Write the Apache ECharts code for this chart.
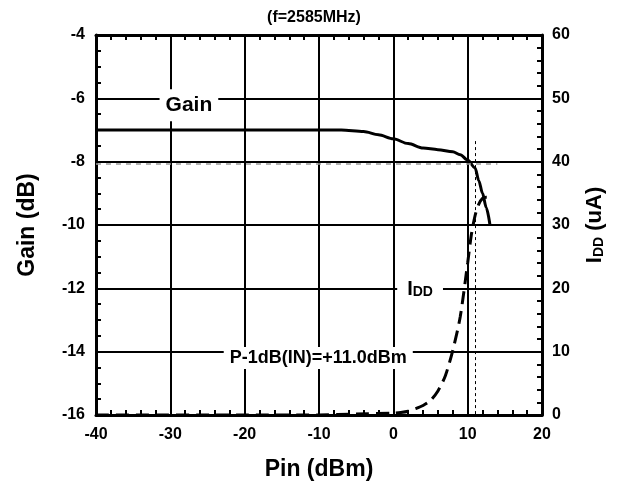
<!DOCTYPE html>
<html><head><meta charset="utf-8">
<script src="https://cdn.jsdelivr.net/npm/echarts@6/dist/echarts.min.js"></script>
<style>html,body{margin:0;padding:0;background:#fff}#c{width:628px;height:487px}</style>
</head><body><div id="c"></div>
<script>
const gainPin = [-40,-30,-20,-10,-7,-4,-2,0,2,4,6,8,9,10,11,11.5,12,12.5,13];
const gainDb  = [-7.0,-7.0,-7.0,-7.0,-7.0,-7.05,-7.15,-7.28,-7.43,-7.57,-7.62,-7.69,-7.78,-7.95,-8.2,-8.6,-9.0,-9.45,-10.0];
const iddPin  = [-40,-20,-10,-5,0,1,2,3,4,5,6,7,8,9,10,10.5,11,11.5,12,12.5,13];
const iddUA   = [0.0,0.0,0.0,0.15,0.3,0.4,0.6,1.0,1.5,2.3,3.8,6.2,10.2,15.5,24,28.5,31.5,33.3,34.2,34.4,34.4];
const p1dbPin = 11.0;
const p1dbGain = -8.05;
const FONT = 'Liberation Sans, Arial, sans-serif';

const chart = echarts.init(document.getElementById('c'));
const minorT = {show:true, splitNumber:5, length:5, lineStyle:{color:'#000', width:2}};
chart.setOption({
  animation:false,
  title:{text:'(f=2585MHz)', left:'center', top:5, textStyle:{fontFamily:FONT, fontWeight:'bold', fontSize:16, color:'#000'}},
  grid:{left:96, right:86, top:35, bottom:72},
  xAxis:[{
    type:'value', min:-40, max:20, interval:10, position:'bottom',
    name:'Pin (dBm)', nameLocation:'middle', nameGap:43,
    nameTextStyle:{fontFamily:FONT, fontWeight:'bold', fontSize:23, color:'#000'},
    axisLine:{onZero:false, lineStyle:{color:'#000', width:3}},
    axisTick:{inside:true, length:5, lineStyle:{width:2}},
    minorTick:minorT,
    axisLabel:{margin:12, fontFamily:FONT, fontWeight:'bold', fontSize:16, color:'#000'},
    splitLine:{show:true, lineStyle:{color:'#000', width:2}}
  },{
    type:'value', min:-40, max:20, interval:10, position:'top',
    axisLine:{onZero:false, lineStyle:{color:'#000', width:3}},
    axisTick:{inside:true, length:5, lineStyle:{width:2}},
    minorTick:minorT,
    axisLabel:{show:false}, splitLine:{show:false}
  }],
  yAxis:[{
    type:'value', min:-16, max:-4, interval:2, position:'left',
    name:'Gain (dB)', nameLocation:'middle', nameGap:57,
    nameTextStyle:{fontFamily:FONT, fontWeight:'bold', fontSize:23, color:'#000'},
    axisLine:{show:true, onZero:false, lineStyle:{color:'#000', width:3}},
    axisTick:{show:true, inside:true, length:5, lineStyle:{width:2}},
    minorTick:{show:true, splitNumber:4, length:5, lineStyle:{color:'#000', width:2}},
    axisLabel:{margin:11, fontFamily:FONT, fontWeight:'bold', fontSize:16, color:'#000'},
    splitLine:{show:true, lineStyle:{color:'#000', width:2}}
  },{
    type:'value', min:0, max:60, interval:10, position:'right',
    name:'{a|I}{b|DD}{a| (uA)}', nameLocation:'middle', nameGap:42,
    nameTextStyle:{fontFamily:FONT, fontWeight:'bold', fontSize:22, color:'#000',
      rich:{a:{fontFamily:FONT, fontWeight:'bold', fontSize:22, color:'#000', verticalAlign:'bottom'},
            b:{fontFamily:FONT, fontWeight:'bold', fontSize:14, color:'#000', verticalAlign:'bottom'}}},
    axisLine:{show:true, onZero:false, lineStyle:{color:'#000', width:3}},
    axisTick:{show:true, inside:true, length:5, lineStyle:{width:2}},
    minorTick:minorT,
    axisLabel:{margin:10, fontFamily:FONT, fontWeight:'bold', fontSize:16, color:'#000'},
    splitLine:{show:false}
  }],
  series:[
    {
      type:'line', xAxisIndex:0, yAxisIndex:0, z:1, silent:true, data:[],
      markLine:{symbol:'none', silent:true, label:{show:false},
        data:[
          [{coord:[-40,p1dbGain], lineStyle:{color:'#9a9a9a', type:[5,5], width:1.5}}, {coord:[14,p1dbGain]}],
          [{coord:[p1dbPin,-7.35], lineStyle:{color:'#000', type:[3,3], width:1}}, {coord:[p1dbPin,-16]}]
        ]}
    },
    {
      name:'Gain', type:'line', xAxisIndex:0, yAxisIndex:0, z:3, showSymbol:false, smooth:0.3, smoothMonotone:'x',
      lineStyle:{color:'#000', width:3},
      data:gainPin.map((x,i)=>[x,gainDb[i]])
    },
    {
      name:'IDD', type:'line', xAxisIndex:0, yAxisIndex:1, z:3, showSymbol:false, smooth:0.25,
      lineStyle:{color:'#000', width:3, type:[13,7]},
      data:iddPin.map((x,i)=>[x,iddUA[i]])
    },
    {
      type:'scatter', xAxisIndex:0, yAxisIndex:0, z:5, symbolSize:0, silent:true,
      itemStyle:{opacity:1},
      label:{show:true, position:'inside', formatter:p=>p.value[2], backgroundColor:'#fff',
        fontFamily:FONT, fontWeight:'bold', color:'#000', opacity:1},
      data:[
        {value:[-27.5,-6.22,'Gain'], label:{fontSize:21, padding:[6,6,5,6]}},
        {value:[-10.1,-14.2,'P-1dB(IN)=+11.0dBm'], label:{fontSize:18, padding:[2,6,2,6]}}
      ]
    },
    {
      type:'scatter', xAxisIndex:0, yAxisIndex:1, z:5, symbolSize:0, silent:true,
      itemStyle:{opacity:1},
      label:{show:true, position:'inside', formatter:'{a|I}{b|DD}', backgroundColor:'#fff', padding:[3,10,3,10], opacity:1,
        rich:{a:{fontFamily:FONT, fontWeight:'bold', fontSize:20, color:'#000', verticalAlign:'bottom'},
              b:{fontFamily:FONT, fontWeight:'bold', fontSize:14, color:'#000', verticalAlign:'bottom'}}},
      data:[[3.6,19.8]]
    }
  ]
});
</script></body></html>
